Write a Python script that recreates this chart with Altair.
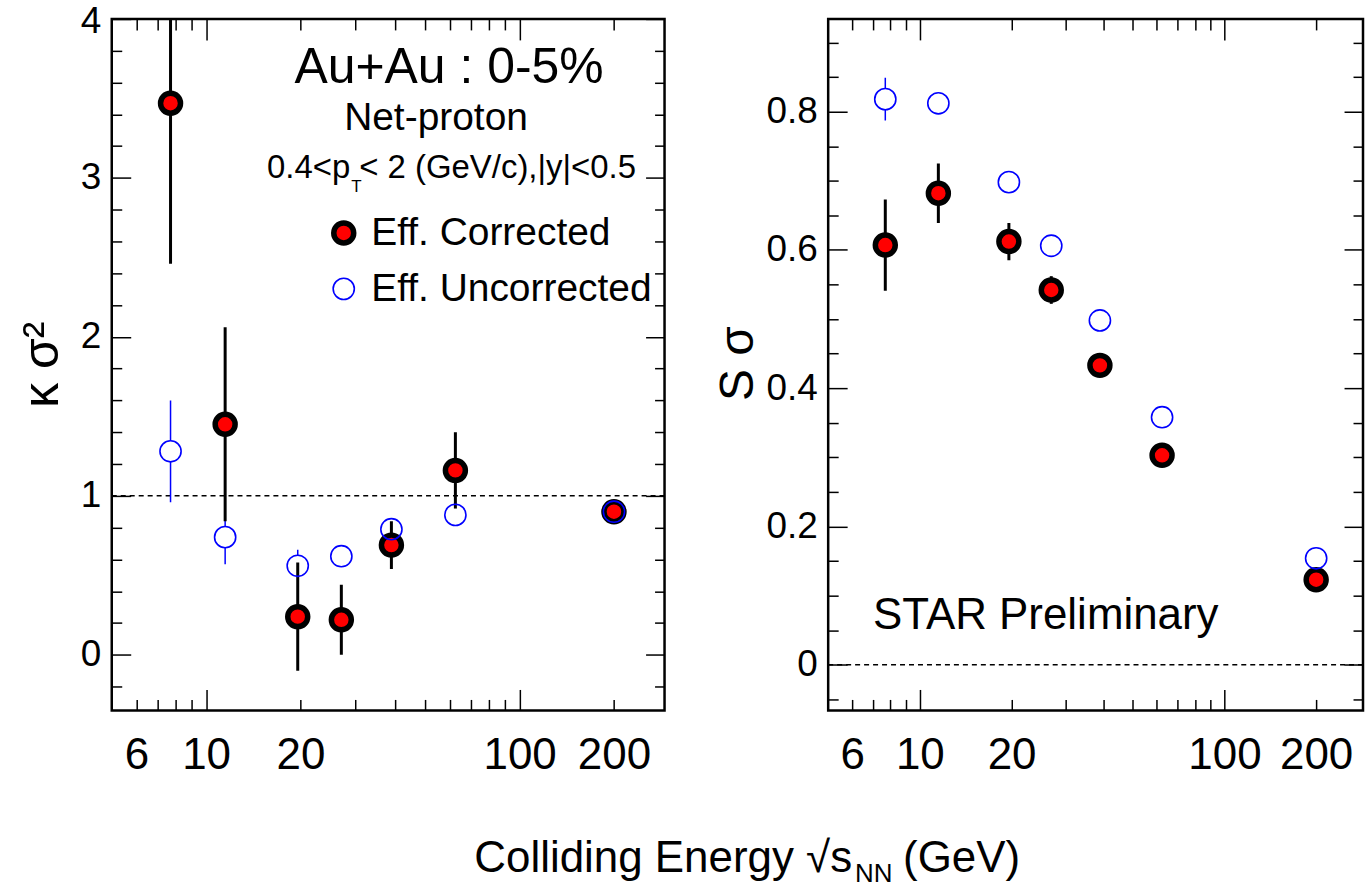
import altair as alt
import pandas as pd

# ---------------- data ----------------
energies = [7.7, 11.5, 19.6, 27, 39, 62.4, 200]

kappa_corr = [3.47, 1.45, 0.24, 0.22, 0.69, 1.16, 0.90]
kappa_corr_err = [1.01, 0.61, 0.34, 0.22, 0.15, 0.24, 0.05]
kappa_unc = [1.28, 0.74, 0.56, 0.62, 0.79, 0.88, 0.90]
kappa_unc_err = [0.32, 0.17, 0.10, 0.05, 0.05, 0.04, 0.03]

s_corr = [0.607, 0.682, 0.612, 0.542, 0.433, 0.303, 0.123]
s_corr_err = [0.066, 0.043, 0.027, 0.020, 0.015, 0.014, 0.010]
s_unc = [0.818, 0.812, 0.698, 0.606, 0.498, 0.358, 0.154]
s_unc_err = [0.031, 0.010, 0.008, 0.007, 0.006, 0.005, 0.004]

SERIES = ["Eff. Corrected", "Eff. Uncorrected"]

x_label_values = [6, 10, 20, 100, 200]
x_major_ticks = [10, 100]
x_minor_ticks = [6, 7, 8, 9, 20, 30, 40, 50, 60, 70, 80, 90, 200]

k_label_values = [0, 1, 2, 3, 4]
k_minor_ticks = [-0.2, 0.2, 0.4, 0.6, 0.8, 1.2, 1.4, 1.6, 1.8, 2.2, 2.4, 2.6, 2.8,
                 3.2, 3.4, 3.6, 3.8]
s_label_values = [0, 0.2, 0.4, 0.6, 0.8]
s_minor_ticks = [-0.05, 0.05, 0.1, 0.15, 0.25, 0.3, 0.35, 0.45, 0.5, 0.55, 0.65,
                 0.7, 0.75, 0.85, 0.9]

FONT = "Liberation Sans"


def make_df(corr, corr_err, unc, unc_err):
    rows = []
    for e, v, er in zip(energies, corr, corr_err):
        rows.append(dict(E=e, v=v, lo=v - er, hi=v + er, series=SERIES[0]))
    for e, v, er in zip(energies, unc, unc_err):
        rows.append(dict(E=e, v=v, lo=v - er, hi=v + er, series=SERIES[1]))
    return pd.DataFrame(rows)


def tick_axis(orient, values, size):
    return alt.Axis(orient=orient, values=values, tickSize=size, offset=-size,
                    labels=False, domain=False, grid=False, title=None,
                    ticks=True, tickColor="black", tickWidth=1.5)


def text_mark(txt, x, y, size, align="center"):
    return alt.Chart(pd.DataFrame({"_": [0]})).mark_text(
        font=FONT, fontSize=size, align=align, baseline="alphabetic", color="black"
    ).encode(x=alt.value(x), y=alt.value(y), text=alt.value(txt))


def panel(df, xdom, width, ydom, ylabels, yminor, ymajor_size, ytitle, ytitle_x,
          ytitle_y, ytitle_size, ref, extra, legend):
    xs = alt.Scale(type="log", domain=xdom, nice=False)
    ys = alt.Scale(domain=ydom, nice=False, zero=False)

    def X(axis):
        return alt.X("E:Q", scale=xs, axis=axis)

    def Y(field, axis):
        return alt.Y(field, type="quantitative", scale=ys, axis=axis)

    label_x_axis = alt.Axis(orient="bottom", values=x_label_values, format="d",
                            ticks=False, domain=False, grid=False, title=None,
                            labelPadding=23, labelFontSize=44, labelColor="black",
                            labelOverlap=False, labelFlush=False)
    label_y_axis = alt.Axis(orient="left", values=ylabels, format="~g",
                            ticks=False, domain=False, grid=False,
                            labelPadding=11, labelFontSize=37, labelColor="black",
                            labelOverlap=False, labelFlush=True, labelFlushOffset=15,
                            title=ytitle, titleFontSize=ytitle_size,
                            titleFontWeight="normal", titleAngle=270,
                            titleX=ytitle_x, titleY=ytitle_y, titleAlign="center",
                            titleBaseline="alphabetic", titleColor="black")

    ref_layer = alt.Chart(pd.DataFrame({"ref": [ref]})).mark_rule(
        strokeDash=[5, 4], strokeWidth=1.5, color="black"
    ).encode(y=Y("ref", label_y_axis))

    unc = alt.Chart(df).transform_filter(alt.datum.series == SERIES[1])
    cor = alt.Chart(df).transform_filter(alt.datum.series == SERIES[0])

    bars_u = unc.mark_rule(color="#0000ff", strokeWidth=1.5, clip=True).encode(
        x=X(tick_axis("bottom", x_major_ticks, 21)),
        y=Y("lo", tick_axis("left", yminor, 10)), y2=alt.Y2("hi"))

    # white inside of the open circles, so the thin error bar stops at the ring
    holes = unc.mark_point(shape="circle", filled=True, fill="white", opacity=1,
                           strokeOpacity=0, size=430).encode(
        x=X(tick_axis("top", x_major_ticks, 21)),
        y=Y("v", tick_axis("right", yminor, 10)))

    bars_c = cor.mark_rule(color="black", strokeWidth=3, clip=True).encode(
        x=X(label_x_axis), y=Y("lo", tick_axis("left", ylabels, ymajor_size)),
        y2=alt.Y2("hi"))

    pts = alt.Chart(df).mark_point(shape="circle", opacity=1, filled=True).encode(
        x=X(tick_axis("bottom", x_minor_ticks, 11)),
        y=Y("v", tick_axis("right", ylabels, ymajor_size)),
        fill=alt.Fill("series:N", scale=alt.Scale(domain=SERIES, range=["#ff0000", "transparent"]), legend=legend),
        stroke=alt.Stroke("series:N", scale=alt.Scale(domain=SERIES, range=["#000000", "#0000ff"]), legend=legend),
        strokeWidth=alt.StrokeWidth("series:N", scale=alt.Scale(domain=SERIES, range=[5.5, 1.6]), legend=legend),
        size=alt.Size("series:N", scale=alt.Scale(domain=SERIES, range=[400, 450]), legend=legend),
    )

    carrier = alt.Chart(df).mark_point(opacity=0).encode(
        x=X(tick_axis("top", x_minor_ticks, 11)),
        y=Y("v", None))

    layers = [ref_layer, bars_u, holes, bars_c, pts, carrier] + extra
    return alt.layer(*layers).resolve_axis(x="independent", y="independent").properties(
        width=width, height=693)


df_k = make_df(kappa_corr, kappa_corr_err, kappa_unc, kappa_unc_err)
df_s = make_df(s_corr, s_corr_err, s_unc, s_unc_err)

anchor = alt.Chart(pd.DataFrame({"_": [0]})).mark_rule(strokeOpacity=0).encode(
    x=alt.value(-110), x2=alt.value(-110), y=alt.value(-16), y2=alt.value(-15))

left_extra = [
    anchor,
    text_mark("Au+Au : 0-5%", 338, 64, 50),
    text_mark("Net-proton", 325, 111, 39),
    text_mark("0.4<p", 239, 159, 33, "right"),
    text_mark("T", 240, 173, 17, "left"),
    text_mark("< 2 (GeV/c),|y|<0.5", 248, 159, 33, "left"),
    text_mark("Colliding Energy \u221as", 742, 855, 44, "right"),
    text_mark("NN", 745, 865, 26, "left"),
    text_mark("(GeV)", 793, 855, 44, "left"),
]
right_extra = [
    text_mark("STAR Preliminary", 45, 611, 44, "left"),
]

legend_left = alt.Legend(orient="none", legendX=213, legendY=195, title=None,
                         labelFontSize=39, labelFont=FONT, labelColor="black",
                         rowPadding=15, labelOffset=8, padding=0, labelLimit=500)

left = panel(df_k, [5, 290], 554, [-0.35, 4.0], k_label_values, k_minor_ticks, 19,
             "\u03ba \u03c3\u00b2", -54, 346, 50, 1, left_extra, legend_left)
right = panel(df_s, [5, 285], 536, [-0.066, 0.934], s_label_values, s_minor_ticks, 19,
              "S \u03c3", -76, 345, 48, 0, right_extra, None)

chart = alt.hconcat(left, right, spacing=164, bounds="flush").resolve_scale(
    fill="independent", stroke="independent", strokeWidth="independent", size="independent"
).resolve_legend(
    fill="independent", stroke="independent", strokeWidth="independent", size="independent"
).properties(padding={"left": 0, "top": 0, "right": 0, "bottom": 2},
             background="white").configure_view(
    stroke="black", strokeWidth=2.5
).configure_axis(labelFont=FONT, titleFont=FONT).configure_text(font=FONT)

chart.save("out.html", embed_options={"renderer": "svg", "actions": False})
